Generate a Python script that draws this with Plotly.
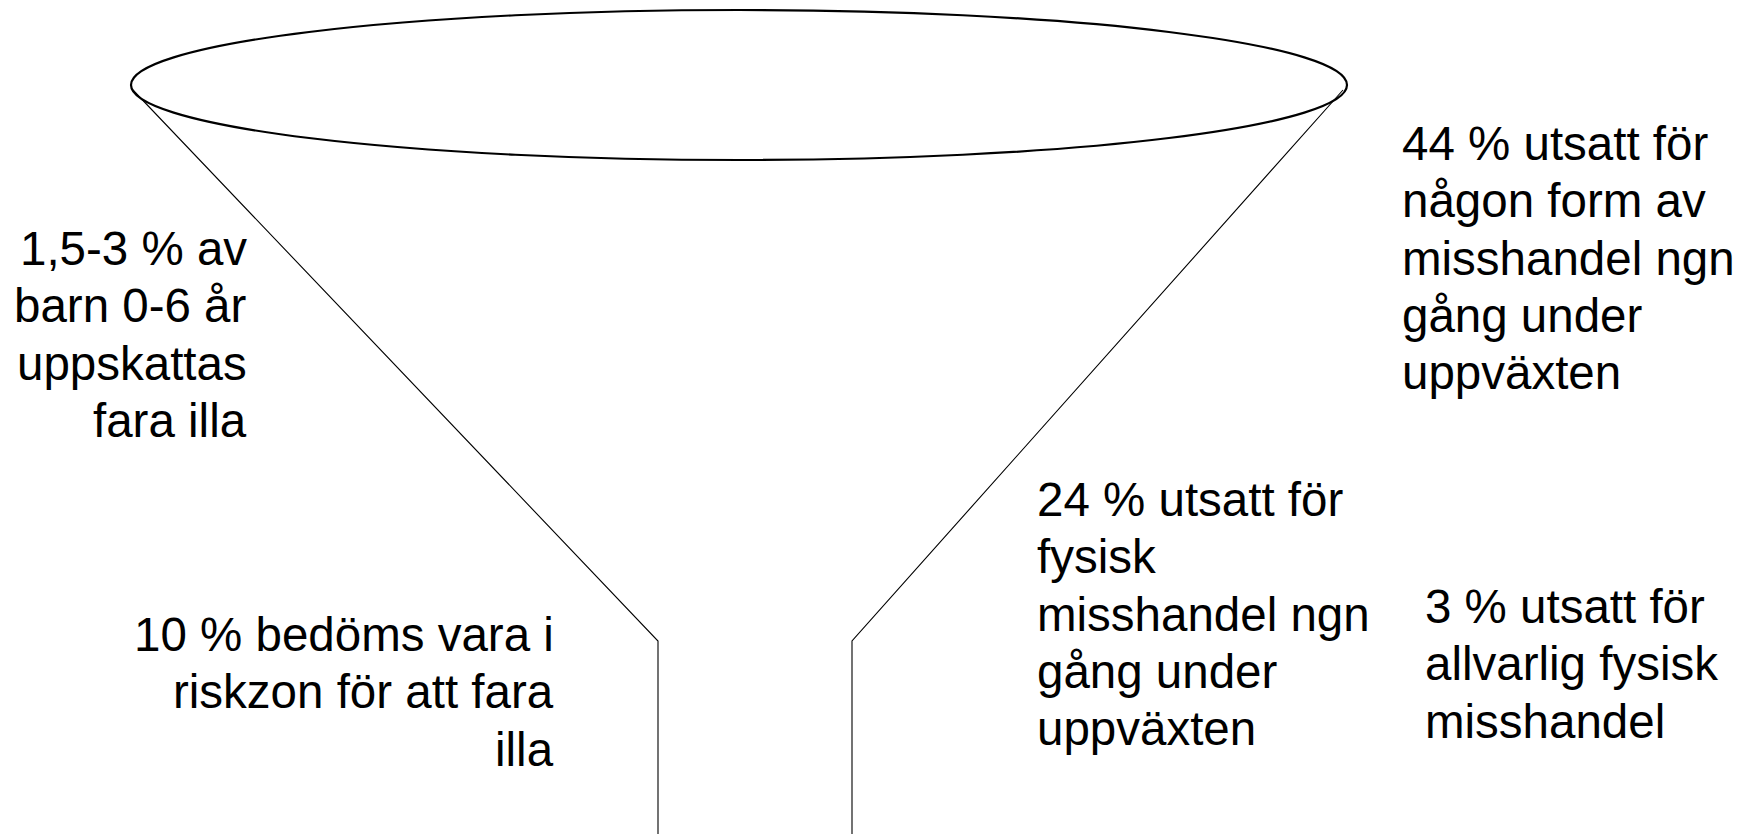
import plotly.graph_objects as go

W, H = 1741, 834
PAGE_MARGIN = 8  # default body margin of the html page

# Funnel geometry (pixel space of the drawing)
rim_x = [131, 1347]
rim_y = [10, 160]
left_wall_x = [133, 658, 658]
left_wall_y = [90, 641, 850]
right_wall_x = [1343, 852, 852]
right_wall_y = [90, 641, 850]

# Text blocks
block_lines = [
    ["1,5-3 % av", "barn 0-6 år", "uppskattas", "fara illa"],
    ["10 % bedöms vara i", "riskzon för att fara", "illa"],
    ["44 % utsatt för", "någon form av", "misshandel ngn", "gång under", "uppväxten"],
    ["24 % utsatt för", "fysisk", "misshandel ngn", "gång under", "uppväxten"],
    ["3 % utsatt för", "allvarlig fysisk", "misshandel"],
]
block_x = [248, 555, 1401, 1036, 1424]
block_align = ["right", "right", "left", "left", "left"]
block_first_baseline = [265, 651, 160, 516, 623]

FONT_SIZE = 47.5
LINE_STEP = 57.3
FONT = "Arial, 'Liberation Sans', sans-serif"

fig = go.Figure()

for xs, ys in [(left_wall_x, left_wall_y), (right_wall_x, right_wall_y)]:
    fig.add_trace(go.Scatter(x=xs, y=ys, mode="lines",
                             line=dict(color="black", width=1.1),
                             hoverinfo="skip", showlegend=False))

fig.add_shape(type="circle", xref="x", yref="y",
              x0=rim_x[0], x1=rim_x[1], y0=rim_y[0], y1=rim_y[1],
              line=dict(color="black", width=2.2), fillcolor="rgba(0,0,0,0)")

annotations = []
for lines, x, align, b0 in zip(block_lines, block_x, block_align, block_first_baseline):
    for i, txt in enumerate(lines):
        baseline = b0 + i * LINE_STEP
        center = baseline - 0.3465 * FONT_SIZE
        annotations.append(dict(
            x=x, y=center, xref="x", yref="y", text=txt, showarrow=False,
            xanchor=align, yanchor="middle", align=align, borderpad=0,
            font=dict(family=FONT, size=FONT_SIZE, color="black")))

fig.update_layout(
    width=W, height=H,
    margin=dict(l=0, r=0, t=0, b=0),
    paper_bgcolor="white", plot_bgcolor="white",
    xaxis=dict(range=[PAGE_MARGIN, W + PAGE_MARGIN], visible=False, fixedrange=True),
    yaxis=dict(range=[H + PAGE_MARGIN, PAGE_MARGIN], visible=False, fixedrange=True),
    annotations=annotations,
    showlegend=False,
)

fig.write_html("out.html", config={"displayModeBar": False})
